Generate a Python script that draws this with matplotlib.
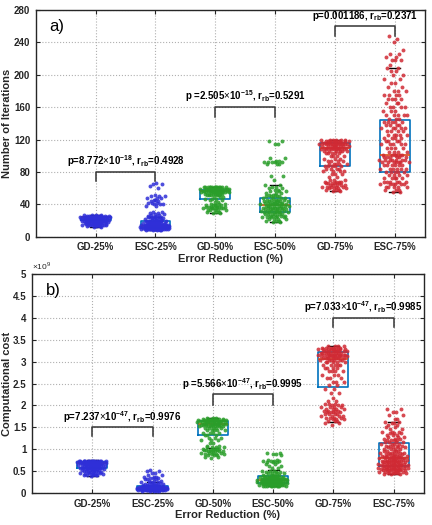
import numpy as np
import matplotlib
matplotlib.use("Agg")
import matplotlib.pyplot as plt

plt.rcParams['font.family'] = ['Liberation Sans', 'DejaVu Sans']
plt.rcParams['mathtext.fontset'] = 'custom'
plt.rcParams['mathtext.rm'] = 'Liberation Sans'
plt.rcParams['mathtext.bf'] = 'Liberation Sans:bold'

groups = ['GD-25%', 'ESC-25%', 'GD-50%', 'ESC-50%', 'GD-75%', 'ESC-75%']

# ---- panel a) number of iterations: value / count pairs
it_gd25_v = [12, 13, 14, 15, 16, 17, 18, 19, 20, 21, 22, 23, 24, 25, 26, 27]
it_gd25_n = [2, 3, 4, 6, 6, 6, 7, 7, 8, 8, 9, 9, 10, 10, 8, 4]
it_esc25_v = [8, 9, 10, 11, 12, 13, 14, 15, 16, 17, 18, 19, 20, 21, 22, 23, 24, 25, 26, 27,
              28, 29, 30, 38, 40, 42, 44, 46, 48, 50, 52, 60, 63, 65, 67]
it_esc25_n = [5, 8, 10, 12, 12, 12, 9, 8, 6, 6, 5, 5, 4, 3, 3, 3, 3, 3, 2, 2,
              2, 2, 2, 2, 3, 3, 2, 2, 3, 3, 1, 1, 1, 2, 1]
it_gd50_v = [29, 31, 33, 35, 37, 39, 41, 43, 45, 47, 49, 51, 53, 55, 57, 59, 61, 62]
it_gd50_n = [2, 3, 5, 6, 6, 5, 3, 2, 2, 3, 3, 5, 7, 10, 12, 12, 9, 5]
it_esc50_v = [18, 20, 22, 24, 26, 28, 30, 32, 34, 36, 38, 40, 42, 44, 46, 48, 50, 52, 54, 56,
              58, 60, 62, 64, 70, 75, 90, 92, 94, 97, 115, 118]
it_esc50_n = [2, 3, 4, 5, 5, 6, 6, 6, 6, 7, 8, 7, 6, 6, 5, 4, 4, 3, 3, 3,
              2, 2, 2, 2, 1, 2, 3, 5, 2, 2, 2, 2]
it_gd75_v = [56, 58, 60, 62, 64, 66, 68, 70, 74, 78, 81, 84, 87, 90, 93, 96, 100, 103, 106,
             108, 110, 112, 114, 116, 118, 120]
it_gd75_n = [2, 3, 4, 5, 5, 5, 4, 3, 2, 3, 4, 4, 5, 5, 4, 3, 4, 5, 6,
             7, 8, 9, 9, 9, 9, 6]
it_esc75_v = [55, 58, 62, 65, 68, 72, 76, 80, 84, 88, 92, 95, 98, 101, 105, 110, 114, 118, 122,
              126, 130, 134, 138, 142, 146, 150, 155, 160, 165, 170, 175, 180, 185, 190, 195,
              200, 205, 208, 212, 218, 222, 226, 230, 240, 244, 248]
it_esc75_n = [2, 3, 5, 6, 6, 5, 4, 5, 6, 6, 7, 7, 6, 6, 4, 4, 5, 4, 4,
              5, 4, 5, 4, 5, 3, 5, 3, 4, 3, 4, 4, 3, 2, 2, 2,
              2, 2, 2, 1, 3, 2, 2, 1, 1, 1, 1]

# box statistics (q1, median, q3, lower cap, upper cap)
it_q1 = [21, 11, 47, 30, 87, 80]
it_med = [24, 13, 57, 39, 109, 101]
it_q3 = [25, 19, 58, 48, 116, 144]
it_lo = [12, 8, 29, 18, 57, 55]
it_hi = [27, 25, 62, 64, 120, 208]

# ---- panel b) computational cost (x 1e9)
cc_gd25_v = [0.38, 0.40, 0.42, 0.44, 0.46, 0.48, 0.50, 0.52, 0.54, 0.56, 0.58, 0.60, 0.62,
             0.64, 0.66, 0.68, 0.70, 0.72, 0.74]
cc_gd25_n = [1, 2, 3, 4, 4, 4, 4, 5, 5, 5, 6, 6, 7, 7, 8, 9, 10, 10, 6]
cc_esc25_v = [0.05, 0.06, 0.07, 0.08, 0.09, 0.10, 0.11, 0.12, 0.13, 0.14, 0.15, 0.17, 0.19,
              0.21, 0.23, 0.25, 0.28, 0.31, 0.34, 0.37, 0.40, 0.45, 0.50, 0.52]
cc_esc25_n = [5, 7, 8, 9, 10, 10, 10, 9, 8, 7, 6, 5, 4, 4, 3, 3, 3, 3, 3, 3, 2, 2, 2, 1]
cc_gd50_v = [0.80, 0.83, 0.86, 0.89, 0.92, 0.95, 0.98, 1.01, 1.04, 1.08, 1.14, 1.20, 1.26,
             1.32, 1.38, 1.44, 1.48, 1.52, 1.55, 1.58, 1.61, 1.64, 1.67, 1.70, 1.72]
cc_gd50_n = [1, 2, 3, 4, 4, 5, 5, 4, 4, 2, 2, 3, 3, 3, 4, 5, 5, 6, 7, 8, 9, 9, 8, 6, 3]
cc_esc50_v = [0.15, 0.17, 0.19, 0.21, 0.23, 0.25, 0.27, 0.29, 0.31, 0.33, 0.35, 0.37, 0.39,
              0.42, 0.45, 0.48, 0.51, 0.58, 0.62, 0.66, 0.71, 0.73, 0.76, 0.86, 0.90, 0.92]
cc_esc50_n = [4, 6, 7, 8, 9, 9, 9, 9, 8, 7, 6, 5, 5, 4, 4, 3, 3, 2, 2, 2, 3, 4, 2, 1, 2, 2]
cc_gd75_v = [1.56, 1.60, 1.64, 1.68, 1.72, 1.76, 1.80, 1.84, 1.88, 1.92, 1.96, 2.00, 2.04,
             2.10, 2.18, 2.28, 2.38, 2.46, 2.54, 2.62, 2.70, 2.78, 2.86, 2.92, 2.98, 3.03,
             3.08, 3.12, 3.16, 3.20, 3.24, 3.28, 3.32, 3.35]
cc_gd75_n = [1, 2, 3, 3, 4, 4, 4, 4, 4, 4, 4, 3, 3, 2, 1, 2, 2, 2, 3, 3, 3, 4, 4, 5, 5, 6,
             7, 8, 9, 9, 9, 8, 6, 4]
cc_esc75_v = [0.43, 0.46, 0.49, 0.52, 0.55, 0.58, 0.61, 0.64, 0.67, 0.70, 0.73, 0.76, 0.79,
              0.82, 0.85, 0.88, 0.92, 0.96, 1.00, 1.04, 1.08, 1.12, 1.16, 1.20, 1.24, 1.28,
              1.32, 1.36, 1.40, 1.45, 1.50, 1.55, 1.60, 1.63, 1.70, 1.78, 1.85, 1.92]
cc_esc75_n = [3, 5, 6, 7, 8, 8, 8, 8, 8, 7, 7, 7, 6, 6, 6, 5, 5, 5, 4, 4, 4, 4, 4, 4, 3, 3,
              3, 3, 3, 2, 2, 2, 2, 2, 2, 2, 2, 2]

cc_q1 = [0.58, 0.08, 1.33, 0.23, 2.42, 0.62]
cc_med = [0.69, 0.11, 1.58, 0.30, 3.05, 0.79]
cc_q3 = [0.70, 0.15, 1.64, 0.38, 3.22, 1.13]
cc_lo = [0.38, 0.05, 1.03, 0.15, 1.62, 0.44]
cc_hi = [0.75, 0.25, 1.72, 0.52, 3.35, 1.63]

# significance brackets: (left group, right group, bar height, leg bottom, label)
it_brackets = [(1, 2, 80, 69, r'p=8.772$\times$10$^{\mathbf{-18}}$, r$_{\mathbf{rb}}$=0.4928'),
               (3, 4, 160, 148, r'p =2.505$\times$10$^{\mathbf{-15}}$, r$_{\mathbf{rb}}$=0.5291'),
               (5, 6, 260, 248, r'p=0.001186, r$_{\mathbf{rb}}$=0.2371')]
cc_brackets = [(1, 2, 1.5, 1.3, r'p=7.237$\times$10$^{\mathbf{-47}}$, r$_{\mathbf{rb}}$=0.9976'),
               (3, 4, 2.25, 2.0, r'p =5.566$\times$10$^{\mathbf{-47}}$, r$_{\mathbf{rb}}$=0.9995'),
               (5, 6, 4.0, 3.78, r'p=7.033$\times$10$^{\mathbf{-47}}$, r$_{\mathbf{rb}}$=0.9985')]

colors = ['#2f2fd8', '#2f2fd8', '#2a9e2a', '#2a9e2a', '#d02a34', '#d02a34']
jit = np.array([-0.2, 0.5, -0.8, 0.1, 0.35, -0.45, 0.9, -0.05, 0.25, -0.6, 0.65, -0.3,
                0.05, -1.0, 0.45, -0.15, 0.75, -0.35, 0.15, -0.7, 0.3, -0.5, 0.0])


def swarm(ax, x0, vals, cnts, color):
    y = np.repeat(vals, cnts)
    n = np.repeat(cnts, cnts)
    off = np.resize(jit, len(y))
    scale = 0.35 + 0.65 * np.sqrt(n / max(cnts))
    ax.scatter(x0 + off * scale * 0.26, y, s=8, color=color, alpha=0.85,
               linewidths=0, zorder=4)


def panel(ax, data, q1, med, q3, lo, hi, brackets, ymax, ystep, ylabel, tag):
    stats = [dict(q1=a, med=b, q3=c, whislo=d, whishi=e, fliers=[])
             for a, b, c, d, e in zip(q1, med, q3, lo, hi)]
    ax.bxp(stats, positions=range(1, 7), widths=0.5, capwidths=0.18,
           boxprops=dict(color='#0072BD', lw=1.2),
           medianprops=dict(color='#D95319', lw=1.2),
           whiskerprops=dict(color='k', lw=0),
           capprops=dict(color='k', lw=1.0), zorder=3)
    for i, (v, n) in enumerate(data):
        swarm(ax, i + 1, v, n, colors[i])
    for a, b, h, leg, txt in brackets:
        ax.plot([a, a, b, b], [leg, h, h, leg], color='#333333', lw=1.1, zorder=5)
        ax.text((a + b) / 2, h + ymax * 0.012, txt, ha='center', va='bottom',
                fontsize=7, fontweight='bold', zorder=6)
    ax.set_xlim(0, 6.5)
    ax.set_ylim(0, ymax)
    ax.set_xticks(range(1, 7))
    ax.set_xticklabels(groups)
    ax.set_yticks(np.arange(0, ymax + ystep / 2, ystep))
    ax.grid(True, color='#b0b0b0', ls=':', lw=0.8)
    ax.set_axisbelow(True)
    ax.tick_params(direction='in', top=True, right=True, length=3, labelsize=7,
                   colors='#262626', pad=4)
    for lab in ax.get_xticklabels() + ax.get_yticklabels():
        lab.set_fontweight('bold')
    for sp in ax.spines.values():
        sp.set_color('#262626')
        sp.set_linewidth(1.0)
    ax.set_xlabel('Error Reduction (%)', fontsize=8, fontweight='bold', color='#262626',
                  labelpad=1)
    ax.set_ylabel(ylabel, fontsize=8, fontweight='bold', color='#262626')
    ax.text(0.035, 0.96, tag, transform=ax.transAxes, fontsize=12, va='top', ha='left')


fig = plt.figure(figsize=(4.32, 5.25), dpi=100)
ax1 = fig.add_axes([0.083, 0.549, 0.900, 0.432])
ax2 = fig.add_axes([0.074, 0.061, 0.907, 0.417])

it_data = [(it_gd25_v, it_gd25_n), (it_esc25_v, it_esc25_n), (it_gd50_v, it_gd50_n),
           (it_esc50_v, it_esc50_n), (it_gd75_v, it_gd75_n), (it_esc75_v, it_esc75_n)]
cc_data = [(cc_gd25_v, cc_gd25_n), (cc_esc25_v, cc_esc25_n), (cc_gd50_v, cc_gd50_n),
           (cc_esc50_v, cc_esc50_n), (cc_gd75_v, cc_gd75_n), (cc_esc75_v, cc_esc75_n)]

panel(ax1, it_data, it_q1, it_med, it_q3, it_lo, it_hi, it_brackets, 280, 40,
      'Number of Iterations', 'a)')
panel(ax2, cc_data, cc_q1, cc_med, cc_q3, cc_lo, cc_hi, cc_brackets, 5, 0.5,
      'Computational cost', 'b)')
ax2.set_yticklabels(['0', '0.5', '1', '1.5', '2', '2.5', '3', '3.5', '4', '4.5', '5'])
ax2.text(0.0, 1.01, r'$\times$10$^{9}$', transform=ax2.transAxes, fontsize=6,
         ha='left', va='bottom', color='#262626')
ax1.yaxis.set_label_coords(-0.062, 0.5)
ax2.yaxis.set_label_coords(-0.052, 0.5)

fig.savefig('out.png', dpi=100)
